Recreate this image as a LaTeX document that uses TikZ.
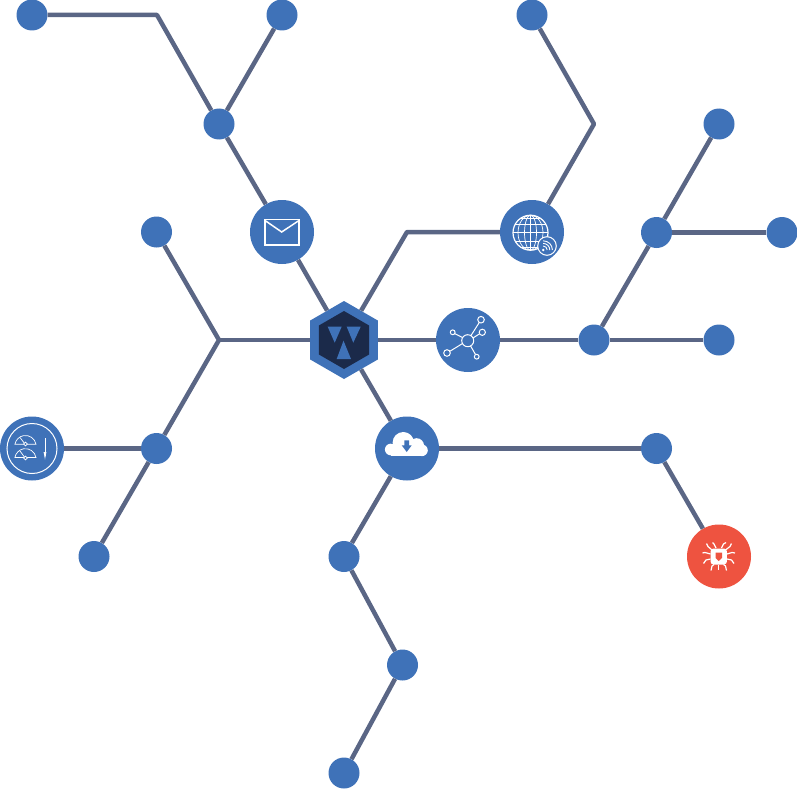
\documentclass[tikz,border=0pt]{standalone}
\usepackage{tikz}
\usetikzlibrary{shapes.geometric}
\definecolor{dotblue}{HTML}{3F72B8}
\definecolor{linkgrey}{HTML}{5A6685}
\definecolor{hubdark}{HTML}{1B2A4A}
\definecolor{chipred}{HTML}{EE5340}
\tikzset{
	smallstyle/.style={circle,fill=dotblue,minimum size=31pt,inner sep=0pt},
	bigstyle/.style={circle,fill=dotblue,minimum size=64pt,inner sep=0pt},
	redstyle/.style={circle,fill=chipred,minimum size=64pt,inner sep=0pt},
	hubstyle/.style={regular polygon,regular polygon sides=6,shape border rotate=30,fill=dotblue,minimum size=78pt,inner sep=0pt},
	corestyle/.style={regular polygon,regular polygon sides=6,shape border rotate=30,fill=hubdark,minimum size=58pt,inner sep=0pt},
	linkstyle/.style={draw=linkgrey,line width=4.5pt,line join=round},
	iconstyle/.style={draw=white,line width=1pt},
	thinstyle/.style={draw=white,line width=0.7pt},
	legstyle/.style={draw=white,line width=1.2pt}
}
\begin{document}
\begin{tikzpicture}[x=1pt,y=-1pt]
	\useasboundingbox (0,0) rectangle (797,789);
	\node[hubstyle] (hub) at (344,340) {};
	\node[corestyle] (core) at (344,340) {};
	\node[bigstyle] (mail) at (282,232) {};
	\node[bigstyle] (globe) at (532,232) {};
	\node[bigstyle] (net) at (468,340) {};
	\node[bigstyle] (cloud) at (407,448.5) {};
	\node[bigstyle] (gauge) at (32,448.5) {};
	\node[redstyle] (chip) at (719,556.5) {};
	\node[smallstyle] (a1) at (32,15) {};
	\node[smallstyle] (a2) at (282,15) {};
	\node[smallstyle] (a3) at (219,124) {};
	\node[smallstyle] (b1) at (532,15) {};
	\node[smallstyle] (c1) at (719,124) {};
	\node[smallstyle] (c2) at (656.5,232.5) {};
	\node[smallstyle] (c3) at (782,232.5) {};
	\node[smallstyle] (c4) at (594,340) {};
	\node[smallstyle] (c5) at (719,340) {};
	\node[smallstyle] (d1) at (156.5,232) {};
	\node[smallstyle] (d2) at (156.5,448.5) {};
	\node[smallstyle] (d3) at (94,556.5) {};
	\node[smallstyle] (e1) at (656.5,448.5) {};
	\node[smallstyle] (e2) at (344,556.5) {};
	\node[smallstyle] (e3) at (402.5,665) {};
	\node[smallstyle] (e4) at (344,773) {};
	\coordinate (k1) at (157,15);
	\coordinate (k2) at (594,124);
	\coordinate (k3) at (407,232);
	\coordinate (k4) at (219,340);
	\draw[linkstyle] (a1)--(k1)--(a3);
	\draw[linkstyle] (a2)--(a3);
	\draw[linkstyle] (a3)--(mail);
	\draw[linkstyle] (mail)--(hub);
	\draw[linkstyle] (b1)--(k2)--(globe);
	\draw[linkstyle] (globe)--(k3)--(hub);
	\draw[linkstyle] (hub)--(net);
	\draw[linkstyle] (net)--(c4);
	\draw[linkstyle] (c4)--(c5);
	\draw[linkstyle] (c4)--(c2);
	\draw[linkstyle] (c2)--(c1);
	\draw[linkstyle] (c2)--(c3);
	\draw[linkstyle] (hub)--(k4);
	\draw[linkstyle] (d1)--(k4)--(d2);
	\draw[linkstyle] (d2)--(gauge);
	\draw[linkstyle] (d2)--(d3);
	\draw[linkstyle] (hub)--(cloud);
	\draw[linkstyle] (cloud)--(e1);
	\draw[linkstyle] (e1)--(chip);
	\draw[linkstyle] (cloud)--(e2);
	\draw[linkstyle] (e2)--(e3);
	\draw[linkstyle] (e3)--(e4);
	\fill[dotblue] (327.7,326.7)--(341.7,326.7)--(334.7,342.7)--cycle;
	\fill[dotblue] (346.7,326.7)--(360.7,326.7)--(353.3,342.7)--cycle;
	\fill[dotblue] (343.5,340.7)--(336.7,359)--(351,359)--cycle;
	\draw[iconstyle,line width=1.5pt] (265,219.5) rectangle (299,245);
	\draw[iconstyle,line width=1.5pt] (265,220.5)--(281.7,232)--(299,220.5);
	\fill[white] (390.7,449.5) circle (5.8);
	\fill[white] (403.3,442.7) circle (10.7);
	\fill[white] (416.7,445.5) circle (7.3);
	\fill[white] (422,450.3) circle (5.8);
	\fill[white] (390.7,446) rectangle (422,456.1);
	\fill[dotblue] (404.4,440.3)--(409,440.3)--(409,445.3)--(411.7,445.3)--(406.7,452)--(401.7,445.3)--(404.4,445.3)--cycle;
	\draw[iconstyle] (467.7,340.7) circle (6);
	\draw[iconstyle] (481,319.7) circle (3.3);
	\draw[iconstyle] (482.3,332.3) circle (3.1);
	\draw[iconstyle] (452.7,332.3) circle (2.4);
	\draw[iconstyle] (447,353) circle (3.3);
	\draw[iconstyle] (476.7,356.7) circle (2.4);
	\draw[iconstyle] (471,335.5)--(479.2,322.6);
	\draw[iconstyle] (473,338)--(479.5,333.8);
	\draw[iconstyle] (462.5,337.5)--(454.8,333.6);
	\draw[iconstyle] (462.4,343.6)--(450,351.2);
	\draw[iconstyle] (470.6,346)--(475.5,354.5);
	\draw[iconstyle,line width=1.2pt] (530.5,232.7) circle (17.5);
	\draw[thinstyle] (530.5,232.7) ellipse (6 and 17.5);
	\draw[thinstyle] (530.5,232.7) ellipse (12.5 and 17.5);
	\draw[thinstyle] (530.5,215.2)--(530.5,250.2);
	\draw[thinstyle] (513,232.7)--(548,232.7);
	\draw[thinstyle] (515,224.5)--(546,224.5);
	\draw[thinstyle] (515,241)--(546,241);
	\draw[thinstyle] (520.5,218.5)--(540.5,218.5);
	\draw[thinstyle] (520.5,247)--(540.5,247);
	\filldraw[fill=dotblue,draw=white,line width=1pt] (547,246) circle (9.3);
	\fill[white] (543.2,250) circle (1.3);
	\draw[iconstyle,line width=0.9pt] (543.2,246) arc (270:360:4);
	\draw[iconstyle,line width=0.9pt] (543.2,243.4) arc (270:360:6.6);
	\draw[iconstyle,line width=0.9pt] (543.2,240.8) arc (270:360:9.2);
	\draw[iconstyle] (32,448.5) circle (25);
	\draw[thinstyle] (15,444.3)--(36,444.3)--(36,444.3) arc (350:190:10.7)--cycle;
	\draw[thinstyle] (15,457.5)--(36,457.5) arc (350:190:10.7)--cycle;
	\draw[thinstyle] (25,444)--(20,437.5);
	\draw[thinstyle] (25.5,458.5)--(20,451);
	\filldraw[fill=dotblue,draw=white,line width=0.7pt] (25.5,444) circle (1.8);
	\filldraw[fill=dotblue,draw=white,line width=0.7pt] (25.5,458) circle (1.8);
	\draw[thinstyle] (45,438)--(45,456);
	\fill[white] (43.6,452)--(46.4,452)--(45,459.5)--cycle;
	\fill[white,rounded corners=3pt] (710.5,548.5) rectangle (726.9,564.5);
	\fill[chipred] (715.5,552.5)--(722,552.5)--(722,558)--(718.7,561)--(715.5,558)--cycle;
	\draw[legstyle] (712,550)--(708,546.5)--(706.5,543.5);
	\draw[legstyle] (716,548)--(714,544)--(712.5,542.5);
	\draw[legstyle] (721.5,548)--(723.5,544)--(726,542.5);
	\draw[legstyle] (725.5,550)--(730,546.5)--(731.5,543.5);
	\draw[legstyle] (710.5,554)--(705,552.5)--(702.5,553);
	\draw[legstyle] (727,554)--(732,552.5)--(735,553);
	\draw[legstyle] (710.5,559)--(706,560)--(703.5,563.5);
	\draw[legstyle] (727,559)--(731.5,560)--(734,563.5);
	\draw[legstyle] (714,564.5)--(712,566)--(711,570.5);
	\draw[legstyle] (723.5,564.5)--(725.5,566)--(726.5,570.5);
	\draw[legstyle] (718.7,564.5)--(718.7,569.5);
\end{tikzpicture}
\end{document}
